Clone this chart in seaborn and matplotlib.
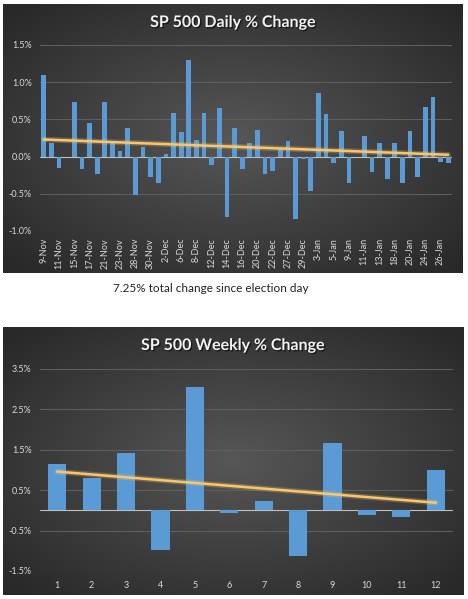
import numpy as np
import pandas as pd
import matplotlib
matplotlib.use('Agg')
import matplotlib.pyplot as plt
import matplotlib.patheffects as pe
from matplotlib.ticker import FuncFormatter
import seaborn as sns

# 日度数据（交易日，百分比）
days = ['9-Nov', '10-Nov', '11-Nov', '14-Nov', '15-Nov', '16-Nov', '17-Nov', '18-Nov',
        '21-Nov', '22-Nov', '23-Nov', '25-Nov', '28-Nov', '29-Nov', '30-Nov',
        '1-Dec', '2-Dec', '5-Dec', '6-Dec', '7-Dec', '8-Dec', '9-Dec', '12-Dec', '13-Dec',
        '14-Dec', '15-Dec', '16-Dec', '19-Dec', '20-Dec', '21-Dec', '22-Dec', '23-Dec',
        '27-Dec', '28-Dec', '29-Dec', '30-Dec',
        '3-Jan', '4-Jan', '5-Jan', '6-Jan', '9-Jan', '10-Jan', '11-Jan', '12-Jan', '13-Jan',
        '17-Jan', '18-Jan', '19-Jan', '20-Jan', '23-Jan', '24-Jan', '25-Jan', '26-Jan', '27-Jan']
daily_pct = [1.10, 0.18, -0.15, -0.01, 0.73, -0.16, 0.45, -0.24,
             0.73, 0.19, 0.08, 0.39, -0.52, 0.13, -0.27,
             -0.35, 0.04, 0.58, 0.33, 1.30, 0.22, 0.59, -0.11, 0.65,
             -0.81, 0.39, -0.17, 0.18, 0.36, -0.24, -0.19, 0.10,
             0.21, -0.84, -0.03, -0.46,
             0.85, 0.57, -0.08, 0.35, -0.35, 0.00, 0.28, -0.21, 0.18,
             -0.30, 0.18, -0.36, 0.34, -0.27, 0.66, 0.80, -0.07, -0.09]

# 周度数据
weeks = list(range(1, 13))
weekly_pct = [1.16, 0.79, 1.43, -0.98, 3.05, -0.07, 0.24, -1.13, 1.68, -0.11, -0.17, 1.01]

total_note = '7.25% total change since election day'

W, H = 468, 599
BAR = '#5b9bd5'
TREND = '#f8c66e'
TXT = '#d9d9d9'

sns.set_theme(style='white')
plt.rcParams['font.family'] = ['Lato', 'DejaVu Sans']

fig = plt.figure(figsize=(W / 100, H / 100), dpi=100)
fig.patch.set_facecolor('white')


def px_box(x0, y0, x1, y1):
    # 像素坐标 -> figure 坐标
    return [x0 / W, 1 - y1 / H, (x1 - x0) / W, (y1 - y0) / H]


def panel_bg(box):
    bg = fig.add_axes(box, zorder=0)
    yy, xx = np.mgrid[-1:1:200j, -1:1:300j]
    r = np.clip(np.sqrt(xx ** 2 + yy ** 2) / 1.35, 0, 1)
    g = 0.34 - 0.18 * r
    bg.imshow(np.dstack([g, g, g]), aspect='auto', extent=(0, 1, 0, 1), interpolation='bilinear')
    bg.set_axis_off()
    return bg


def style_axes(ax, lo, hi, step):
    ax.set_facecolor('none')
    ax.set_ylim(lo, hi)
    ax.set_yticks(np.arange(lo, hi + 0.001, step))
    ax.yaxis.set_major_formatter(FuncFormatter(lambda v, p: f'{v:.1f}%'))
    ax.grid(axis='y', color='#5e5e5e', lw=0.8)
    ax.set_axisbelow(True)
    for s in ax.spines.values():
        s.set_visible(False)
    ax.axhline(0, color='#bfbfbf', lw=0.8, zorder=1)
    ax.tick_params(axis='y', colors=TXT, labelsize=6.5, length=0, pad=6)
    ax.tick_params(axis='x', colors=TXT, length=0)
    ax.set_xlabel('')
    ax.set_ylabel('')


glow = [pe.Stroke(linewidth=4, foreground=TREND, alpha=0.25), pe.Normal()]
title_fx = [pe.withSimplePatchShadow(offset=(1, -1), shadow_rgbFace='black', alpha=0.5)]

# ---- 日度图 ----
panel_bg(px_box(3, 4, 463, 273))
ax1 = fig.add_axes(px_box(40, 45, 452, 231), zorder=1)
df_d = pd.DataFrame({'day': days, 'pct': daily_pct})
sns.barplot(data=df_d, x='day', y='pct', color=BAR, saturation=1, width=0.62, ax=ax1,
            zorder=2, edgecolor='none', linewidth=0)
sns.regplot(x=np.arange(len(days)), y=np.array(daily_pct), scatter=False, ci=None, ax=ax1,
            line_kws={'color': TREND, 'lw': 1.8, 'zorder': 3, 'path_effects': glow})
style_axes(ax1, -1.0, 1.5, 0.5)
ax1.set_xlim(-0.5, len(days) - 0.5)
ax1.set_xticks(range(0, len(days), 2))
ax1.set_xticklabels(days[::2], rotation=90, fontsize=6.5)
ax1.tick_params(axis='x', pad=5)
fig.text(233 / W, 1 - 23 / H, 'SP 500 Daily % Change', ha='center', va='center',
         color='#f2f2f2', fontsize=11.5, fontweight='bold', path_effects=title_fx)

fig.text(211 / W, 1 - 288 / H, total_note, ha='center', va='center', color='#222222', fontsize=8.5)

# ---- 周度图 ----
panel_bg(px_box(3, 327, 464, 595))
ax2 = fig.add_axes(px_box(40, 369, 453, 571), zorder=1)
df_w = pd.DataFrame({'week': weeks, 'pct': weekly_pct})
sns.barplot(data=df_w, x='week', y='pct', color=BAR, saturation=1, width=0.53, ax=ax2,
            zorder=2, edgecolor='none', linewidth=0)
sns.regplot(x=np.arange(len(weeks)), y=np.array(weekly_pct), scatter=False, ci=None, ax=ax2,
            line_kws={'color': TREND, 'lw': 1.8, 'zorder': 3, 'path_effects': glow})
style_axes(ax2, -1.5, 3.5, 1.0)
ax2.set_xlim(-0.5, len(weeks) - 0.5)
ax2.set_xticks(range(len(weeks)))
ax2.set_xticklabels([str(w) for w in weeks], fontsize=6.5)
ax2.tick_params(axis='x', pad=7)
fig.text(233 / W, 1 - 346 / H, 'SP 500 Weekly % Change', ha='center', va='center',
         color='#f2f2f2', fontsize=11.5, fontweight='bold', path_effects=title_fx)

fig.savefig('out.png', dpi=100, facecolor='white')
